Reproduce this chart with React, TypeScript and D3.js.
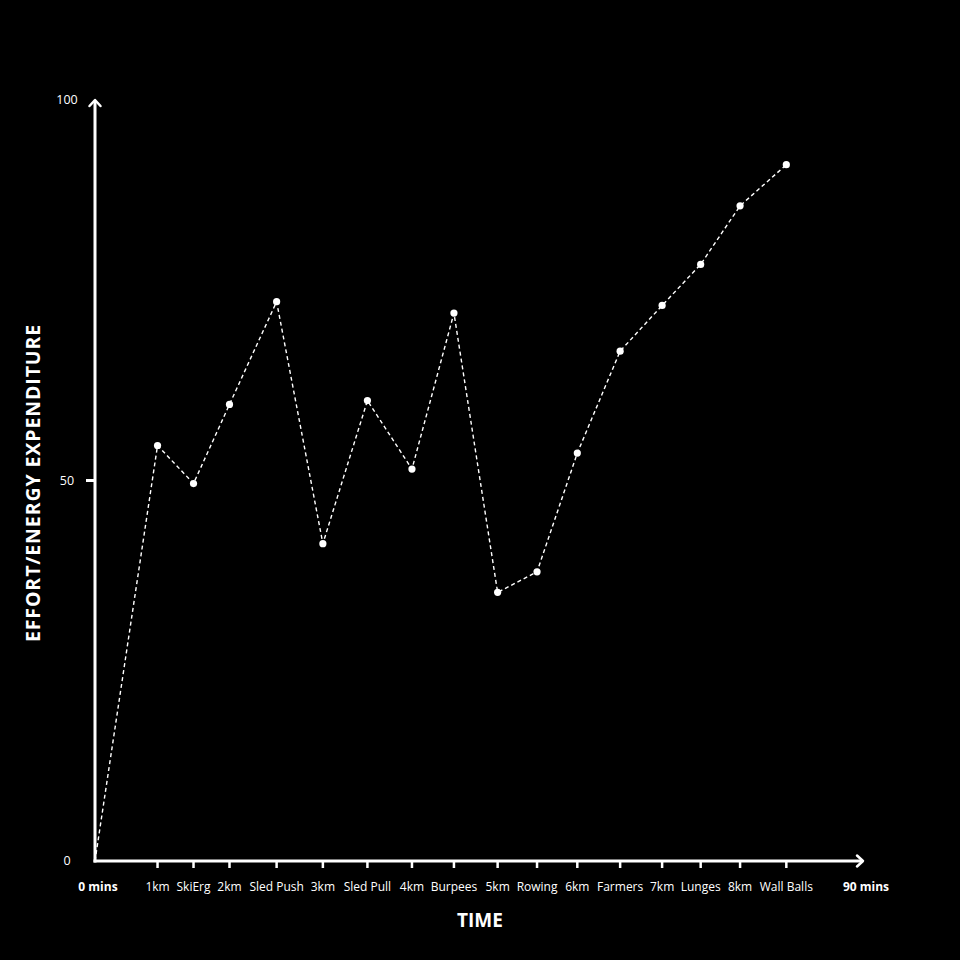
import React from "react";
import * as d3 from "d3";

// stations of the race, in order
const stations = [
  "1km", "SkiErg", "2km", "Sled Push", "3km", "Sled Pull", "4km", "Burpees",
  "5km", "Rowing", "6km", "Farmers", "7km", "Lunges", "8km", "Wall Balls",
];
// finish time of each station (mins)
const minutes = [
  7.3, 11.5, 15.7, 21.2, 26.6, 31.8, 37.0, 41.9,
  47.0, 51.6, 56.3, 61.3, 66.2, 70.7, 75.3, 80.7,
];
// effort / energy expenditure
const effort = [
  54.6, 49.6, 60.0, 73.5, 41.7, 60.5, 51.5, 72.0,
  35.3, 38.0, 53.6, 67.0, 73.0, 78.4, 86.1, 91.5,
];
const yTicks = [0, 50, 100];
const xEnds = [
  { value: 0, label: "0 mins" },
  { value: 90, label: "90 mins" },
];

const W = 960;
const H = 960;
const font = "'Open Sans', sans-serif";

export default function App() {
  const x = d3.scaleLinear().domain([0, 90]).range([95, 866]);
  const y = d3.scaleLinear().domain([0, 100]).range([861, 100]);

  const pts: [number, number][] = [[0, 0], ...minutes.map((m, i) => [m, effort[i]] as [number, number])];
  const line = d3
    .line<[number, number]>()
    .x((d) => x(d[0]))
    .y((d) => y(d[1]));

  const x0 = x(0);
  const y0 = y(0);

  return (
    <div style={{ position: "fixed", left: 0, top: 0, width: W, height: H, background: "#000" }}>
      <svg width={W} height={H} style={{ display: "block" }}>
        <rect width={W} height={H} fill="#000" />

        {/* axes with arrow heads */}
        <line x1={x0} y1={y0 + 1.5} x2={x0} y2={y(100) + 1} stroke="#fff" strokeWidth={3} />
        <path
          d={`M${x0 - 5.5},${y(100) + 6} L${x0},${y(100)} L${x0 + 5.5},${y(100) + 6}`}
          fill="none" stroke="#fff" strokeWidth={2.5} strokeLinecap="round" strokeLinejoin="round"
        />
        <line x1={x0 - 1.5} y1={y0} x2={x(90) - 3} y2={y0} stroke="#fff" strokeWidth={3} />
        <path
          d={`M${x(90) - 9},${y0 - 5.5} L${x(90) - 3},${y0} L${x(90) - 9},${y0 + 5.5}`}
          fill="none" stroke="#fff" strokeWidth={2.5} strokeLinecap="round" strokeLinejoin="round"
        />

        {/* y ticks */}
        {yTicks.map((t) => (
          <g key={t}>
            {t === 50 && (
              <line x1={x0 - 9} x2={x0} y1={y(t)} y2={y(t)} stroke="#fff" strokeWidth={3} />
            )}
            <text
              x={67} y={y(t)} dy="0.35em" textAnchor="middle"
              fill="#fff" fontFamily={font} fontSize={12.5}
            >
              {t}
            </text>
          </g>
        ))}

        {/* x ticks */}
        {minutes.map((m, i) => (
          <g key={stations[i]}>
            <line x1={x(m)} x2={x(m)} y1={y0} y2={y0 + 7} stroke="#fff" strokeWidth={2.5} />
            <text
              x={x(m)} y={887} dy="0.35em" textAnchor="middle"
              fill="#fff" fontFamily={font} fontSize={12}
            >
              {stations[i]}
            </text>
          </g>
        ))}
        {xEnds.map((e) => (
          <text
            key={e.label} x={x(e.value) + (e.value === 0 ? 3 : 0)} y={887} dy="0.35em" textAnchor="middle"
            fill="#fff" fontFamily={font} fontSize={12} fontWeight="bold"
          >
            {e.label}
          </text>
        ))}

        {/* axis titles */}
        <text
          x={480} y={920} dy="0.35em" textAnchor="middle"
          fill="#fff" fontFamily={font} fontSize={19} fontWeight="bold"
        >
          TIME
        </text>
        <text
          transform={`translate(33,483) rotate(-90)`} dy="0.35em" textAnchor="middle"
          fill="#fff" fontFamily={font} fontSize={19.5} fontWeight="bold" letterSpacing={0.9}
        >
          EFFORT/ENERGY EXPENDITURE
        </text>

        {/* series */}
        <path d={line(pts) ?? ""} fill="none" stroke="#fff" strokeWidth={1.4} strokeDasharray="4 3" />
        {pts.slice(1).map((d, i) => (
          <circle key={i} cx={x(d[0])} cy={y(d[1])} r={3.6} fill="#fff" />
        ))}
      </svg>
    </div>
  );
}
